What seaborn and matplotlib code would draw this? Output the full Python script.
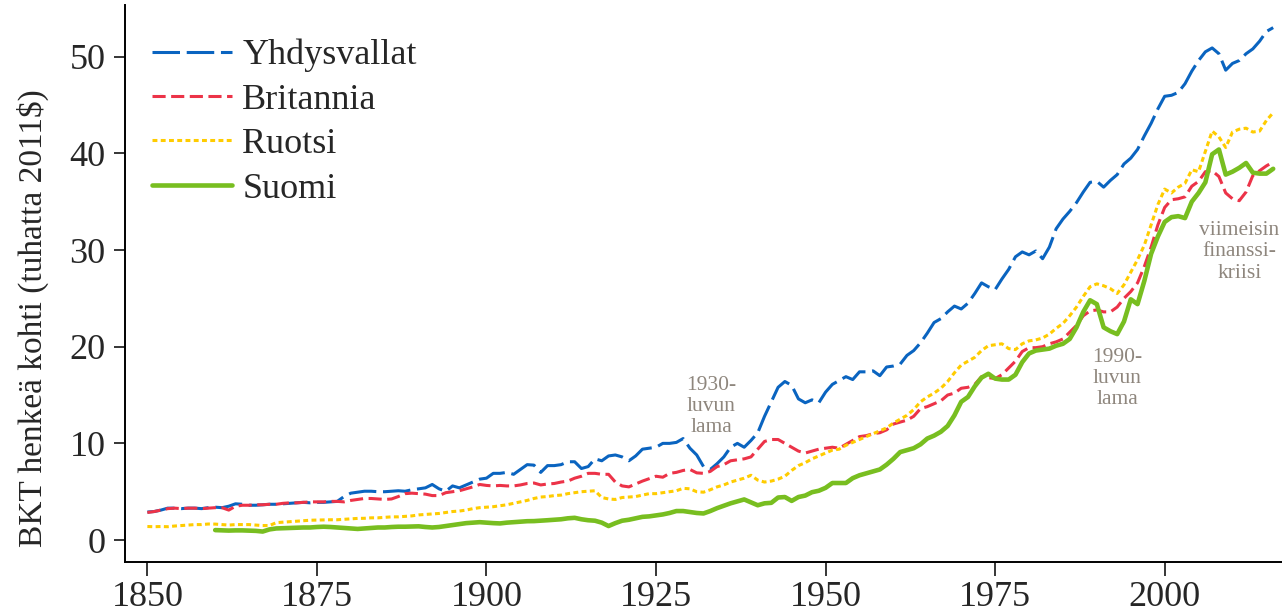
import pandas as pd
import seaborn as sns
import matplotlib.pyplot as plt

# BKT henkeä kohti, tuhatta 2011$ (luettu kuvasta)
vuodet = list(range(1850, 2017))
vuodet_suomi = list(range(1860, 2017))

yhdysvallat = [
    2.9, 2.95, 3.1, 3.3, 3.3, 3.25, 3.3, 3.3, 3.25, 3.35,
    3.4, 3.35, 3.5, 3.75, 3.7, 3.6, 3.6, 3.65, 3.7, 3.7,
    3.75, 3.8, 3.85, 3.9, 3.85, 3.9, 3.9, 3.95, 4.0, 4.5,
    4.85, 4.95, 5.05, 5.05, 5.0, 5.0, 5.05, 5.1, 5.05, 5.2,
    5.3, 5.4, 5.75, 5.3, 5.05, 5.6, 5.4, 5.7, 6.0, 6.3,
    6.4, 6.9, 6.9, 7.0, 6.8, 7.3, 7.8, 7.75, 7.0, 7.7,
    7.7, 7.8, 8.1, 8.1, 7.4, 7.6, 8.4, 8.2, 8.7, 8.8,
    8.6, 8.2, 8.7, 9.4, 9.5, 9.6, 10.0, 10.0, 10.1, 10.5,
    9.5, 8.8, 7.6, 7.3, 7.9, 8.6, 9.6, 10.0, 9.6, 10.3,
    11.1, 12.8, 14.3, 15.8, 16.4, 16.0, 14.6, 14.2, 14.5, 14.2,
    15.3, 16.1, 16.5, 16.9, 16.6, 17.4, 17.4, 17.5, 17.0, 17.9,
    18.0, 18.2, 19.1, 19.6, 20.4, 21.4, 22.5, 22.9, 23.6, 24.2,
    23.9, 24.5, 25.5, 26.6, 26.2, 25.9, 27.0, 28.0, 29.3, 29.8,
    29.5, 29.9, 29.1, 30.3, 32.2, 33.2, 34.0, 34.9, 36.0, 37.0,
    37.1, 36.5, 37.2, 37.8, 38.9, 39.5, 40.4, 41.8, 43.1, 44.6,
    45.9, 46.0, 46.3, 47.2, 48.5, 49.6, 50.5, 50.9, 50.3, 48.6,
    49.3, 49.6, 50.3, 50.8, 51.6, 52.6, 53.0,
]

britannia = [
    2.85, 2.95, 3.1, 3.25, 3.3, 3.25, 3.3, 3.3, 3.25, 3.3,
    3.35, 3.35, 3.1, 3.5, 3.6, 3.6, 3.65, 3.65, 3.7, 3.7,
    3.8, 3.85, 3.85, 3.9, 3.95, 3.95, 3.95, 4.0, 4.0, 3.95,
    4.1, 4.2, 4.3, 4.3, 4.25, 4.2, 4.25, 4.5, 4.8, 4.85,
    4.8, 4.75, 4.6, 4.6, 4.9, 5.0, 5.1, 5.3, 5.5, 5.75,
    5.65, 5.6, 5.65, 5.6, 5.6, 5.7, 5.85, 5.9, 5.7, 5.8,
    5.85, 6.0, 6.1, 6.4, 6.6, 6.9, 6.9, 6.8, 6.8, 6.0,
    5.6, 5.5, 5.8, 6.1, 6.35, 6.6, 6.5, 6.9, 7.0, 7.2,
    7.3, 6.95, 6.9, 7.1, 7.6, 7.8, 8.2, 8.3, 8.4, 8.6,
    9.4, 10.2, 10.4, 10.4, 10.0, 9.6, 9.2, 9.0, 9.2, 9.4,
    9.5, 9.6, 9.5, 9.9, 10.3, 10.7, 10.8, 11.0, 11.1, 11.4,
    12.0, 12.2, 12.4, 12.8, 13.6, 13.8, 14.1, 14.4, 15.0, 15.2,
    15.7, 15.8, 16.1, 16.9, 16.8, 16.7, 17.1, 17.8, 18.5, 19.5,
    19.9, 19.9, 20.0, 20.3, 20.5, 20.8, 21.5, 22.2, 23.2, 23.7,
    23.8, 23.6, 23.6, 24.1, 25.0, 25.7, 26.6, 28.3, 30.3, 32.6,
    34.4, 35.2, 35.3, 35.5, 36.6, 37.1, 38.1, 38.2, 37.6, 35.9,
    35.3, 35.1, 36.0, 37.7, 38.2, 38.7, 39.1,
]

ruotsi = [
    1.4, 1.38, 1.4, 1.38, 1.45, 1.5, 1.55, 1.6, 1.6, 1.66,
    1.65, 1.6, 1.55, 1.6, 1.6, 1.6, 1.55, 1.5, 1.5, 1.8,
    1.85, 1.9, 1.95, 2.0, 2.05, 2.07, 2.1, 2.1, 2.1, 2.15,
    2.2, 2.24, 2.25, 2.3, 2.3, 2.35, 2.4, 2.4, 2.45, 2.5,
    2.6, 2.65, 2.7, 2.75, 2.85, 2.95, 3.0, 3.1, 3.25, 3.35,
    3.4, 3.45, 3.55, 3.65, 3.8, 3.95, 4.1, 4.3, 4.45, 4.5,
    4.6, 4.65, 4.8, 4.9, 5.0, 5.05, 5.1, 4.4, 4.25, 4.2,
    4.4, 4.45, 4.5, 4.65, 4.8, 4.8, 4.9, 5.0, 5.1, 5.35,
    5.3, 5.0, 4.95, 5.2, 5.5, 5.7, 6.0, 6.2, 6.4, 6.7,
    6.2, 6.0, 6.1, 6.3, 6.6, 7.2, 7.7, 8.0, 8.4, 8.7,
    9.0, 9.3, 9.4, 9.8, 10.1, 10.4, 10.7, 11.0, 11.3, 11.6,
    12.1, 12.5, 12.9, 13.5, 14.3, 14.8, 15.2, 15.7, 16.4, 17.3,
    18.1, 18.5, 18.9, 19.6, 20.1, 20.2, 20.3, 19.8, 19.7, 20.3,
    20.6, 20.7, 20.9, 21.3, 21.9, 22.4, 23.2, 24.1, 25.2, 26.2,
    26.5, 26.3, 26.0, 25.5, 26.4, 27.7, 29.0, 30.5, 32.6, 34.7,
    36.3, 35.9, 36.5, 36.9, 38.3, 38.1, 40.2, 42.3, 41.7, 40.6,
    42.2, 42.5, 42.6, 42.2, 42.3, 43.4, 44.2,
]

suomi = [
    1.03, 1.0, 0.98, 1.0, 1.0, 0.98, 0.95, 0.88, 1.1, 1.2,
    1.22, 1.25, 1.28, 1.3, 1.3, 1.35, 1.38, 1.35, 1.3, 1.25,
    1.2, 1.15, 1.2, 1.25, 1.3, 1.3, 1.35, 1.38, 1.38, 1.4,
    1.42, 1.35, 1.3, 1.35, 1.45, 1.55, 1.65, 1.75, 1.8, 1.85,
    1.8, 1.75, 1.72, 1.8, 1.85, 1.9, 1.95, 1.96, 2.0, 2.05,
    2.1, 2.15, 2.25, 2.3, 2.15, 2.05, 2.0, 1.8, 1.45, 1.75,
    2.0, 2.1, 2.25, 2.4, 2.45, 2.55, 2.65, 2.8, 3.0, 3.0,
    2.9, 2.8, 2.75, 3.0, 3.3, 3.55, 3.8, 4.0, 4.2, 3.9,
    3.6, 3.8, 3.85, 4.4, 4.45, 4.05, 4.45, 4.6, 4.95, 5.1,
    5.4, 5.9, 5.9, 5.9, 6.4, 6.7, 6.9, 7.1, 7.3, 7.8,
    8.4, 9.1, 9.3, 9.5, 9.9, 10.5, 10.8, 11.2, 11.8, 12.9,
    14.3, 14.8, 15.9, 16.8, 17.2, 16.7, 16.6, 16.6, 17.1, 18.4,
    19.3, 19.6, 19.7, 19.8, 20.1, 20.3, 20.8, 22.0, 23.6, 24.8,
    24.4, 22.0, 21.6, 21.3, 22.6, 24.9, 24.4, 26.8, 29.6, 31.4,
    32.9, 33.4, 33.5, 33.3, 35.0, 35.9, 37.0, 39.9, 40.4, 37.8,
    38.1, 38.5, 39.0, 38.0, 37.9, 37.9, 38.4,
]

maat = ["Yhdysvallat", "Britannia", "Ruotsi", "Suomi"]
varit = {"Yhdysvallat": "#0a64c0", "Britannia": "#ec3348",
         "Ruotsi": "#ffcc00", "Suomi": "#78be20"}
viivat = {"Yhdysvallat": (9, 2.2), "Britannia": (4.3, 1.8),
          "Ruotsi": (1.6, 1.1), "Suomi": ""}
paksuus = {"Yhdysvallat": 2.2, "Britannia": 2.2, "Ruotsi": 2.2, "Suomi": 3.3}

# huomautukset: teksti, vuosi, arvo
huomautukset = [
    ("1930-\nluvun\nlama", 1933.1, 13.8),
    ("1990-\nluvun\nlama", 1993.0, 16.7),
    ("viimeisin\nfinanssi-\nkriisi", 2011.0, 29.8),
]

df = pd.concat([
    pd.DataFrame({"vuosi": vuodet, "bkt": yhdysvallat, "maa": "Yhdysvallat"}),
    pd.DataFrame({"vuosi": vuodet, "bkt": britannia, "maa": "Britannia"}),
    pd.DataFrame({"vuosi": vuodet, "bkt": ruotsi, "maa": "Ruotsi"}),
    pd.DataFrame({"vuosi": vuodet_suomi, "bkt": suomi, "maa": "Suomi"}),
], ignore_index=True)

sns.set_style("ticks")
plt.rcParams["font.family"] = ["Liberation Serif", "DejaVu Serif"]

fig = plt.figure(figsize=(12.82, 6.14), dpi=100)
ax = fig.add_axes([0.0975, 0.085, 0.9025, 0.907])

sns.lineplot(data=df, x="vuosi", y="bkt", hue="maa", style="maa", size="maa",
             hue_order=maat, style_order=maat, size_order=maat,
             palette=varit, dashes=viivat, sizes=paksuus,
             estimator=None, errorbar=None, ax=ax)

for teksti, x, y in huomautukset:
    ax.text(x, y, teksti, ha="center", va="center", fontsize=15.5,
            color="#8e867d", linespacing=1.15)

ax.set_xlim(1846.7, 2017.3)
ax.set_ylim(-2.25, 55.35)
ax.set_xticks([1850, 1875, 1900, 1925, 1950, 1975, 2000])
ax.set_yticks([0, 10, 20, 30, 40, 50])
ax.set_xlabel("")
ax.set_ylabel("BKT henkeä kohti (tuhatta 2011$)", fontsize=24)
ax.yaxis.set_label_coords(-0.066, 0.438)
ax.tick_params(axis="both", labelsize=26, width=1.1, color="black")
ax.tick_params(axis="x", length=10, pad=4)
ax.tick_params(axis="y", length=8, pad=6)
for s in ["left", "bottom"]:
    ax.spines[s].set_linewidth(1.4)
    ax.spines[s].set_color("black")
sns.despine(ax=ax)

handles, labels = ax.get_legend_handles_labels()
ax.legend(handles, labels, loc="upper left", frameon=False, fontsize=26,
          handlelength=2.2, handletextpad=0.3, labelspacing=0.31,
          bbox_to_anchor=(0.0, 0.988), borderaxespad=0.35)

fig.savefig("out.png", dpi=100)
